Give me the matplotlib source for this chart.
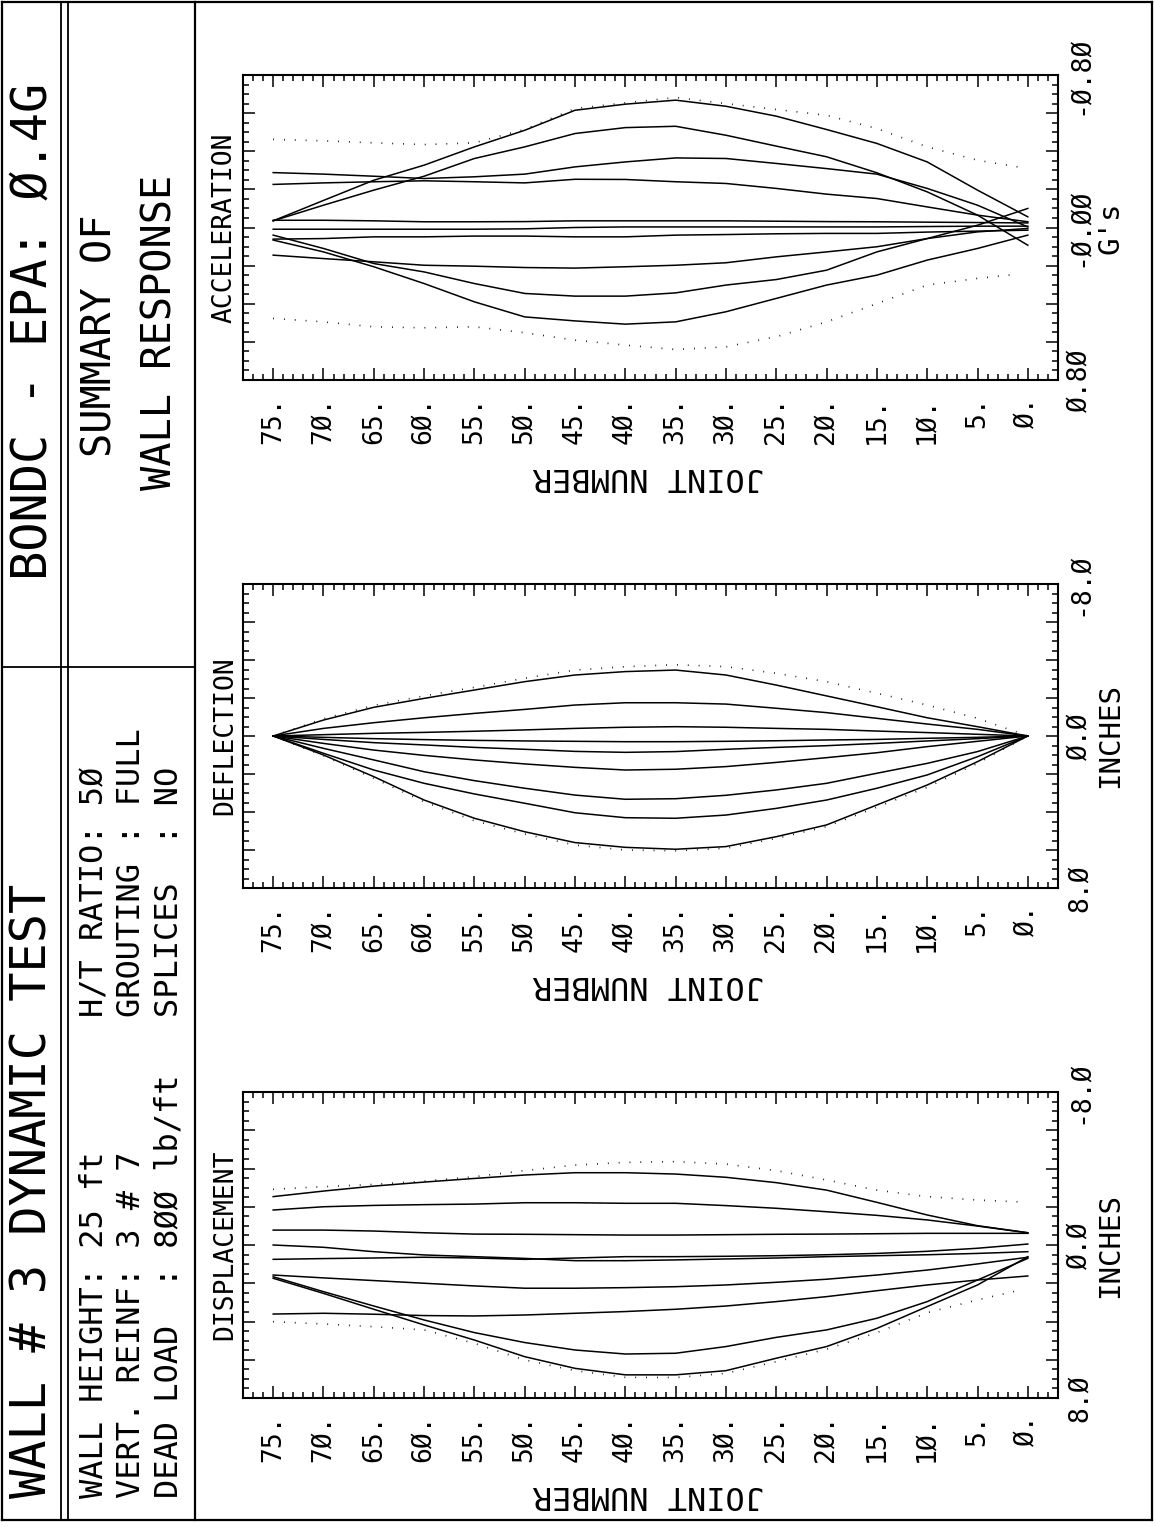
"""
Wall #3 dynamic test - summary of wall response
(acceleration, deflection and displacement envelopes along the wall joints)
"""
import matplotlib
matplotlib.use("Agg")
import matplotlib.pyplot as plt
from matplotlib.lines import Line2D
from matplotlib.ticker import MultipleLocator, FuncFormatter

W, H = 1156, 1527
DPI = 100

plt.rcParams['font.family'] = ['DejaVu Sans Mono']

# joint numbers along the wall (75 = top, 0 = base)
joints = [75, 70, 65, 60, 55, 50, 45, 40, 35, 30, 25, 20, 15, 10, 5, 0]
env_joints = [75, 70, 65, 60, 55, 50, 45, 40, 35, 30, 25, 20, 15, 10, 5, 1]

# acceleration snapshots (G's)
accel_curves = [
    [-0.035, -0.142, -0.248, -0.327, -0.423, -0.510, -0.615, -0.647, -0.668, -0.636, -0.584, -0.514, -0.441, -0.344, -0.196, -0.056],
    [-0.035, -0.117, -0.196, -0.269, -0.362, -0.423, -0.493, -0.524, -0.531, -0.484, -0.427, -0.371, -0.287, -0.187, -0.065, 0.093],
    [-0.288, -0.280, -0.269, -0.257, -0.266, -0.280, -0.318, -0.344, -0.365, -0.362, -0.336, -0.309, -0.280, -0.205, -0.117, -0.003],
    [-0.226, -0.234, -0.240, -0.245, -0.240, -0.234, -0.253, -0.252, -0.240, -0.231, -0.205, -0.175, -0.152, -0.108, -0.065, -0.030],
    [-0.038, -0.038, -0.035, -0.030, -0.030, -0.031, -0.035, -0.035, -0.035, -0.035, -0.033, -0.031, -0.030, -0.028, -0.026, -0.024],
    [0.009, 0.009, 0.009, 0.009, 0.009, 0.007, 0.000, -0.003, -0.003, -0.003, -0.003, -0.003, -0.003, -0.005, -0.007, -0.007],
    [0.061, 0.058, 0.049, 0.049, 0.045, 0.045, 0.049, 0.049, 0.040, 0.037, 0.033, 0.031, 0.031, 0.024, 0.019, 0.014],
    [0.145, 0.163, 0.180, 0.198, 0.203, 0.210, 0.213, 0.206, 0.198, 0.185, 0.154, 0.128, 0.101, 0.058, -0.012, -0.100],
    [0.040, 0.110, 0.189, 0.233, 0.294, 0.346, 0.360, 0.360, 0.343, 0.302, 0.273, 0.224, 0.128, 0.058, 0.023, 0.005],
    [0.066, 0.128, 0.206, 0.294, 0.390, 0.469, 0.490, 0.507, 0.495, 0.442, 0.372, 0.302, 0.250, 0.171, 0.110, 0.040],
]
accel_env_neg = [-0.462, -0.455, -0.444, -0.435, -0.444, -0.515, -0.624, -0.654, -0.682, -0.650, -0.619, -0.589, -0.519, -0.423, -0.353, -0.318]
accel_env_pos = [0.477, 0.495, 0.521, 0.526, 0.521, 0.552, 0.591, 0.617, 0.640, 0.626, 0.573, 0.495, 0.399, 0.302, 0.267, 0.245]

# deflection snapshots (inches)
defl_curves = [
    [0, -0.84, -1.51, -1.98, -2.42, -2.86, -3.21, -3.39, -3.47, -3.21, -2.68, -2.11, -1.54, -0.96, -0.49, 0],
    [0, -0.40, -0.70, -0.96, -1.19, -1.40, -1.63, -1.75, -1.75, -1.68, -1.46, -1.23, -0.93, -0.63, -0.35, 0],
    [0, -0.07, -0.14, -0.19, -0.25, -0.32, -0.40, -0.46, -0.49, -0.46, -0.40, -0.35, -0.26, -0.18, -0.09, 0],
    [0, 0.07, 0.14, 0.19, 0.23, 0.26, 0.28, 0.30, 0.30, 0.28, 0.25, 0.21, 0.18, 0.12, 0.07, 0],
    [0, 0.18, 0.35, 0.47, 0.60, 0.70, 0.81, 0.86, 0.82, 0.70, 0.60, 0.51, 0.39, 0.26, 0.14, 0],
    [0, 0.39, 0.74, 1.02, 1.26, 1.47, 1.65, 1.79, 1.75, 1.61, 1.39, 1.14, 0.88, 0.56, 0.28, 0],
    [0, 0.65, 1.26, 1.88, 2.35, 2.75, 3.11, 3.33, 3.30, 3.12, 2.84, 2.49, 1.96, 1.44, 0.82, 0],
    [0, 0.91, 1.79, 2.49, 3.05, 3.54, 4.04, 4.30, 4.33, 4.16, 3.81, 3.37, 2.75, 2.05, 1.09, 0],
    [0, 1.00, 2.14, 3.37, 4.33, 5.04, 5.61, 5.86, 5.96, 5.82, 5.30, 4.68, 3.63, 2.58, 1.35, 0],
]
defl_env_neg = [0, -0.91, -1.61, -2.11, -2.56, -3.04, -3.47, -3.65, -3.75, -3.65, -3.30, -2.86, -2.25, -1.63, -0.93, 0]
defl_env_pos = [0, 1.04, 2.23, 3.46, 4.46, 5.16, 5.74, 6.00, 6.04, 5.91, 5.39, 4.77, 3.75, 2.70, 1.44, 0]

# displacement snapshots (inches)
disp_curves = [
    [-2.53, -2.82, -3.08, -3.29, -3.48, -3.66, -3.78, -3.78, -3.71, -3.54, -3.26, -2.87, -2.23, -1.57, -1.01, -0.64],
    [-1.83, -2.00, -2.07, -2.11, -2.14, -2.21, -2.21, -2.18, -2.18, -2.06, -1.92, -1.74, -1.55, -1.31, -0.99, -0.64],
    [-0.78, -0.78, -0.73, -0.64, -0.57, -0.56, -0.54, -0.52, -0.52, -0.54, -0.56, -0.57, -0.59, -0.61, -0.61, -0.61],
    [0.00, 0.12, 0.35, 0.52, 0.61, 0.70, 0.82, 0.82, 0.78, 0.73, 0.68, 0.61, 0.56, 0.51, 0.44, 0.35],
    [0.75, 0.71, 0.68, 0.64, 0.68, 0.75, 0.68, 0.61, 0.61, 0.59, 0.56, 0.51, 0.44, 0.33, 0.17, -0.05],
    [1.57, 1.72, 1.86, 2.00, 2.14, 2.26, 2.26, 2.23, 2.18, 2.09, 1.95, 1.79, 1.57, 1.31, 0.99, 0.64],
    [3.61, 3.57, 3.62, 3.69, 3.71, 3.66, 3.57, 3.48, 3.36, 3.19, 2.96, 2.70, 2.39, 2.09, 1.83, 1.62],
    [1.66, 2.44, 3.19, 3.92, 4.58, 5.10, 5.49, 5.70, 5.66, 5.31, 4.83, 4.44, 3.83, 2.96, 1.83, 0.70],
    [1.74, 2.53, 3.36, 4.18, 4.97, 5.84, 6.45, 6.79, 6.79, 6.57, 5.92, 5.31, 4.36, 3.22, 2.09, 0.61],
]
disp_env_neg = [-2.91, -3.05, -3.17, -3.34, -3.57, -3.89, -4.18, -4.32, -4.36, -4.23, -3.89, -3.40, -2.87, -2.53, -2.35, -2.26]
disp_env_pos = [4.01, 4.13, 4.27, 4.44, 5.14, 6.01, 6.57, 6.92, 6.93, 6.71, 6.10, 5.45, 4.58, 3.54, 2.87, 2.39]

accel_labels = {-0.8: '-Ø.8Ø', 0.0: '-Ø.ØØ', 0.8: 'Ø.8Ø'}
inch_labels = {-8.0: '-8.Ø', 0.0: 'Ø.Ø', 8.0: '8.Ø'}


def fx(x):
    return x / W


def fy(y):
    return 1 - y / H


def hline(fig, x0, x1, y, lw=1.6):
    fig.add_artist(Line2D([fx(x0), fx(x1)], [fy(y), fy(y)], color='black', lw=lw))


def vline(fig, x, y0, y1, lw=1.6):
    fig.add_artist(Line2D([fx(x), fx(x)], [fy(y0), fy(y1)], color='black', lw=lw))


def draw_panel(fig, top, bottom, curves, env_x, env_neg, env_pos, env_lim,
               major, minor, labels, title, unit):
    ax = fig.add_axes([fx(243), fy(bottom), 815 / W, (bottom - top) / H])
    for c in curves:
        ax.plot(joints, c, color='black', lw=1.1)
    dots = dict(color='black', lw=1.2, linestyle=(0, (0.5, 6)))
    ax.plot(env_x, env_neg, **dots)
    ax.plot(env_x, env_pos, **dots)

    ax.set_xlim(78, -3)
    ax.set_ylim(env_lim, -env_lim)
    ax.xaxis.set_major_locator(MultipleLocator(5))
    ax.xaxis.set_minor_locator(MultipleLocator(1))
    ax.yaxis.set_major_locator(MultipleLocator(major))
    ax.yaxis.set_minor_locator(MultipleLocator(minor))
    ax.xaxis.set_major_formatter(FuncFormatter(
        lambda v, p: (f"{int(round(v))}." if 0 <= round(v) <= 75 else '').replace('0', 'Ø')))
    ax.yaxis.set_major_formatter(FuncFormatter(
        lambda v, p: labels.get(round(v, 2) + 0.0, '')))

    ax.tick_params(which='both', direction='in', top=True, bottom=True,
                   left=True, right=True, labelleft=False, labelright=True,
                   width=1.1, color='black')
    ax.tick_params(which='major', length=8.5)
    ax.tick_params(which='minor', length=4)
    ax.tick_params(axis='x', labelrotation=90, pad=12, labelsize=19)
    ax.tick_params(axis='y', labelrotation=90, pad=7, labelsize=19)
    for t in ax.yaxis.get_major_ticks():
        t.label2.set_verticalalignment('center')
    for s in ax.spines.values():
        s.set_linewidth(1.5)

    mid = (top + bottom) / 2
    fig.text(fx(225), fy(mid), title, rotation=90, ha='center', va='center', fontsize=19)
    fig.text(fx(1110), fy(mid), unit, rotation=90, ha='center', va='center', fontsize=21)
    fig.text(fx(648), fy(bottom + 97), 'JOINT NUMBER', rotation=180,
             ha='center', va='center', fontsize=23)
    return ax


fig = plt.figure(figsize=(W / DPI, H / DPI), dpi=DPI)
fig.patch.set_facecolor('white')

# page frame and header bands
hline(fig, 2, 1152, 1.5)
hline(fig, 2, 1152, 1520)
vline(fig, 2, 1.5, 1520)
vline(fig, 1152, 1.5, 1520)
vline(fig, 61, 1.5, 1520, lw=1.3)
vline(fig, 68, 1.5, 1520, lw=1.3)
vline(fig, 195, 1.5, 1520)
hline(fig, 2, 195, 667, lw=1.3)

fig.text(fx(33), fy(1498), 'WALL # 3 DYNAMIC TEST', rotation=90,
         ha='center', va='bottom', fontsize=35)
fig.text(fx(33), fy(580), 'BONDC - EPA: Ø.4G', rotation=90,
         ha='center', va='bottom', fontsize=35)

info_left = ['WALL HEIGHT: 25 ft', 'VERT. REINF: 3 # 7', 'DEAD LOAD  : 8ØØ lb/ft']
info_right = ['H/T RATIO: 5Ø', 'GROUTING : FULL', 'SPLICES  : NO']
row_x = [95, 131, 169]
for x, a, b in zip(row_x, info_left, info_right):
    fig.text(fx(x), fy(1498), a, rotation=90, ha='center', va='bottom', fontsize=23)
    fig.text(fx(x), fy(1017), b, rotation=90, ha='center', va='bottom', fontsize=23)

fig.text(fx(101), fy(457), 'SUMMARY OF', rotation=90, ha='center', va='bottom', fontsize=29)
fig.text(fx(160), fy(490), 'WALL RESPONSE', rotation=90, ha='center', va='bottom', fontsize=29)

draw_panel(fig, 75, 380, accel_curves, env_joints, accel_env_neg, accel_env_pos,
           0.8, 0.2, 0.05, accel_labels, 'ACCELERATION', "G's")
draw_panel(fig, 584, 888, defl_curves, joints, defl_env_neg, defl_env_pos,
           8.0, 2.0, 0.5, inch_labels, 'DEFLECTION', 'INCHES')
draw_panel(fig, 1092, 1398, disp_curves, env_joints, disp_env_neg, disp_env_pos,
           8.0, 2.0, 0.5, inch_labels, 'DISPLACEMENT', 'INCHES')

fig.savefig('out.png', dpi=DPI, facecolor='white')
